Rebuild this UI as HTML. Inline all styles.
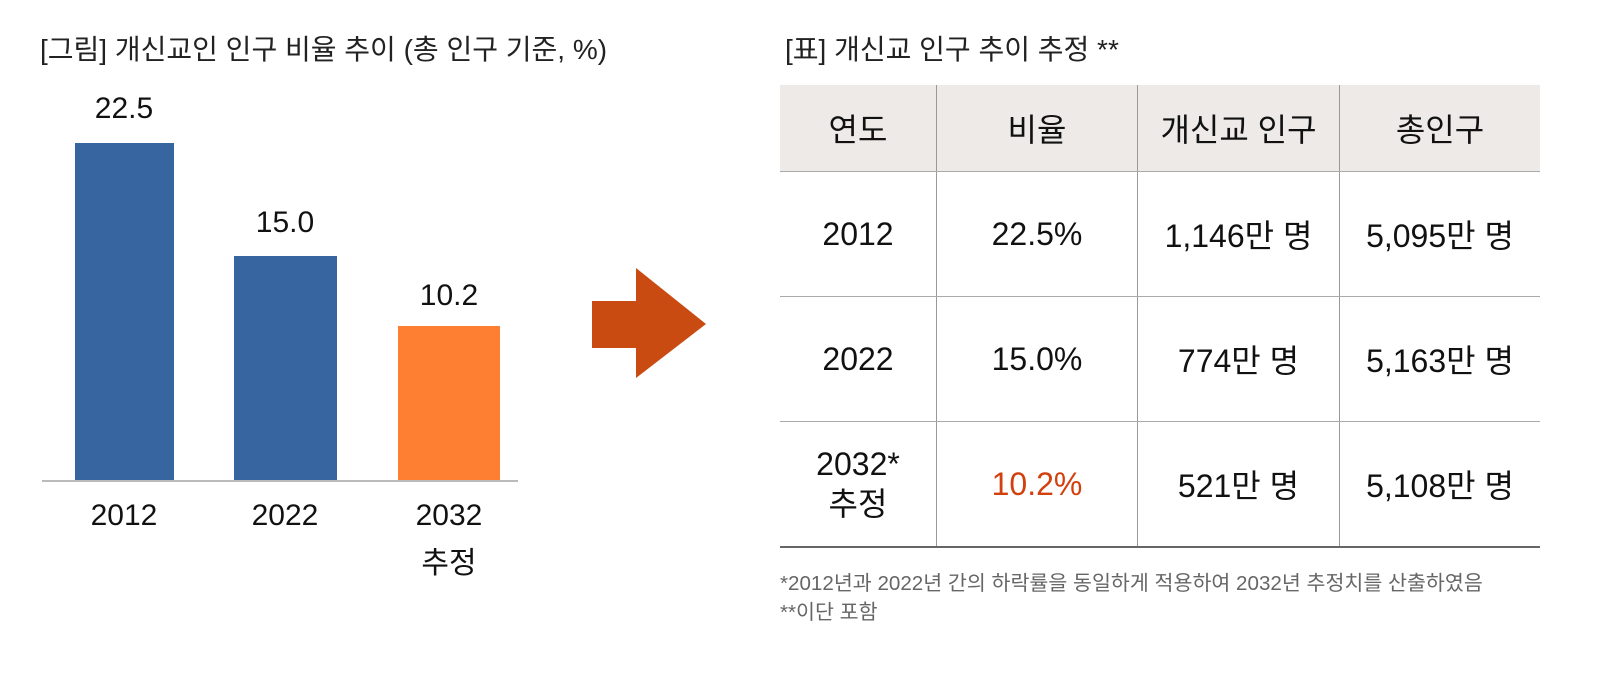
<!DOCTYPE html>
<html><head><meta charset="utf-8"><style>
body{margin:0;width:1608px;height:686px;background:#fff;font-family:"Liberation Sans","Noto Sans CJK KR",sans-serif;color:#111;position:relative;overflow:hidden}
.a{position:absolute;white-space:nowrap}
.t{font-size:28px;color:#222}
.v{font-size:30px;text-align:center;width:140px}
table{position:absolute;left:780px;top:85px;width:760px;border-collapse:collapse;font-size:32px;text-align:center}
td,th{border-left:1px solid #999;border-right:1px solid #999;border-bottom:1px solid #aaa;font-weight:normal;padding:0}
td:first-child,th:first-child{border-left:none}
td:last-child,th:last-child{border-right:none}
th{background:#EDEAE7;height:86px}
td{height:124px}
tr:last-child td{border-bottom:2px solid #666}
.fn{font-size:20.6px;color:#666}
</style></head><body>
<div class="a t" style="left:40px;top:28px">[그림] 개신교인 인구 비율 추이 (총 인구 기준, %)</div>
<div class="a" style="left:75px;top:143px;width:99px;height:338px;background:#3765A0"></div>
<div class="a" style="left:234px;top:256px;width:103px;height:225px;background:#3765A0"></div>
<div class="a" style="left:398px;top:326px;width:102px;height:155px;background:#FF7F32"></div>
<div class="a" style="left:42px;top:480px;width:476px;height:2px;background:#bbb"></div>
<div class="a v" style="left:54px;top:92px">22.5</div>
<div class="a v" style="left:215px;top:206px">15.0</div>
<div class="a v" style="left:379px;top:279px">10.2</div>
<div class="a v" style="left:54px;top:499px">2012</div>
<div class="a v" style="left:215px;top:499px">2022</div>
<div class="a v" style="left:379px;top:499px">2032</div>
<div class="a v" style="left:379px;top:538px">추정</div>
<svg class="a" style="left:0;top:0" width="1608" height="686"><rect x="592" y="301" width="46" height="47" fill="#C94B12"/><polygon points="636,268 706,324 636,378" fill="#C94B12"/></svg>
<div class="a t" style="left:785px;top:28px">[표] 개신교 인구 추이 추정 **</div>
<table>
<tr><th style="width:156px">연도</th><th style="width:200px">비율</th><th style="width:201px">개신교 인구</th><th>총인구</th></tr>
<tr><td>2012</td><td>22.5%</td><td>1,146만 명</td><td>5,095만 명</td></tr>
<tr><td>2022</td><td>15.0%</td><td>774만 명</td><td>5,163만 명</td></tr>
<tr><td style="line-height:40px">2032*<br>추정</td><td style="color:#D2400E">10.2%</td><td>521만 명</td><td>5,108만 명</td></tr>
</table>
<div class="a fn" style="left:780px;top:566px">*2012년과 2022년 간의 하락률을 동일하게 적용하여 2032년 추정치를 산출하였음</div>
<div class="a fn" style="left:780px;top:595px">**이단 포함</div>
</body></html>
